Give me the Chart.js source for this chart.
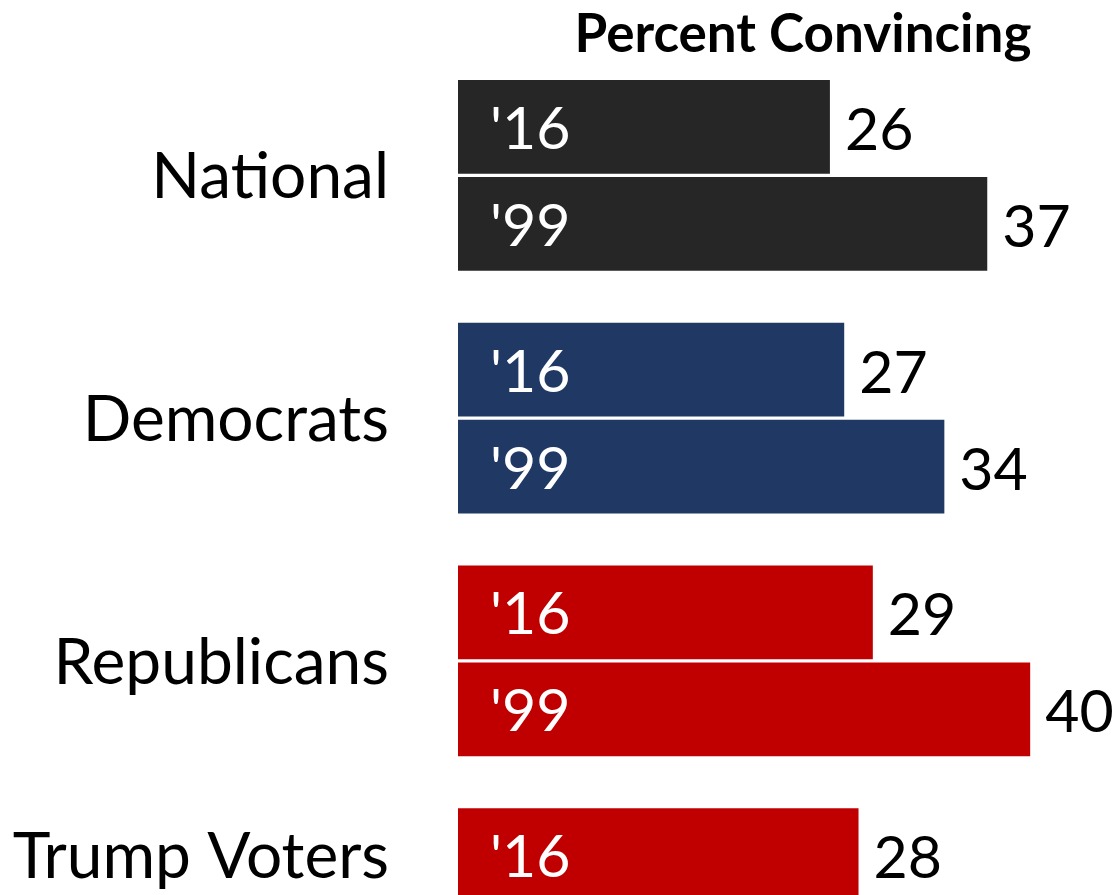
<!DOCTYPE html>
<html>
<head>
<meta charset="utf-8">
<script src="https://cdn.jsdelivr.net/npm/chart.js@4.4.1/dist/chart.umd.min.js"></script>
<style>
  html, body { margin: 0; padding: 0; background: #fff; overflow: hidden; }
  #wrap { width: 1116px; height: 1040px; }
</style>
</head>
<body>
<div id="wrap"><canvas id="convincingChart" width="1116" height="1040"></canvas></div>
<script>
// dati
const groups = ['National', 'Democrats', 'Republicans', 'Trump Voters'];
const yearLabels = ["'16", "'99"];
const values16 = [26, 27, 29, 28];
const values99 = [37, 34, 40, null];
const groupColors = ['#262626', '#203864', '#c00000', '#c00000'];
const chartTitle = 'Percent Convincing';

const FONT = 'Lato, "Open Sans", sans-serif';

// etichette: titolo, nomi dei gruppi, anni dentro le barre, valori a destra
const labelPlugin = {
    id: 'labelPlugin',
    afterDatasetsDraw(chart) {
        const ctx = chart.ctx;
        const area = chart.chartArea;
        ctx.save();

        ctx.fillStyle = '#000';
        ctx.font = 'bold 53px ' + FONT;
        ctx.textAlign = 'center';
        ctx.textBaseline = 'alphabetic';
        ctx.fillText(chartTitle, 803, 52);

        const centers = groups.map(() => []);
        chart.data.datasets.forEach((ds, d) => {
            const meta = chart.getDatasetMeta(d);
            meta.data.forEach((bar, i) => {
                const v = ds.data[i];
                if (v === null || v === undefined) return;
                centers[i].push(bar.y);
                ctx.textBaseline = 'middle';
                ctx.textAlign = 'left';
                ctx.font = '59px ' + FONT;
                ctx.fillStyle = '#000';
                ctx.fillText(String(v), bar.x + 15, bar.y + 4);
                ctx.fillStyle = '#fff';
                ctx.fillText(ds.label, bar.base + 32, bar.y + 3);
            });
        });

        ctx.font = '64px ' + FONT;
        ctx.fillStyle = '#000';
        ctx.textAlign = 'right';
        ctx.textBaseline = 'middle';
        groups.forEach((g, i) => {
            const ys = centers[i];
            const y = ys.reduce((a, b) => a + b, 0) / ys.length;
            ctx.fillText(g, area.left - 69, y + 2);
        });
        ctx.restore();
    }
};

document.addEventListener('DOMContentLoaded', function() {
    const ctx = document.getElementById('convincingChart').getContext('2d');

    new Chart(ctx, {
        type: 'bar',
        data: {
            labels: groups,
            datasets: [{
                label: yearLabels[0],
                data: values16,
                backgroundColor: groupColors,
                borderWidth: 0
            }, {
                label: yearLabels[1],
                data: values99,
                backgroundColor: groupColors,
                borderWidth: 0
            }]
        },
        options: {
            indexAxis: 'y',
            responsive: false,
            animation: false,
            categoryPercentage: 0.8,
            barPercentage: 0.965,
            layout: {
                padding: { left: 458, right: 0, top: 54, bottom: 15 }
            },
            scales: {
                x: { display: false, min: 0, max: 46 },
                y: { display: false }
            },
            plugins: {
                legend: { display: false },
                tooltip: { enabled: false },
                title: { display: false }
            }
        },
        plugins: [labelPlugin]
    });
});
</script>
</body>
</html>
